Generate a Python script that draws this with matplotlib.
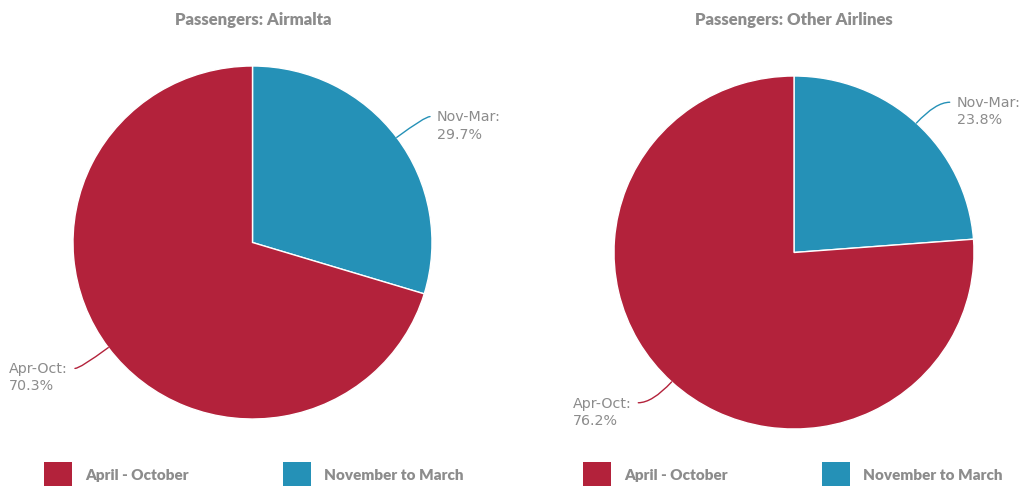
import numpy as np
import matplotlib
matplotlib.use("Agg")
import matplotlib.pyplot as plt
from matplotlib.patches import Rectangle

# data
titles = ["Passengers: Airmalta", "Passengers: Other Airlines"]
short_labels = ["Nov-Mar", "Apr-Oct"]
airmalta = [29.7, 70.3]
other = [23.8, 76.2]
legend_labels = ["April - October", "November to March"]

red = "#B3223B"
blue = "#2591B7"
grey = "#8c8c8c"
W, H = 1019, 486

fig = plt.figure(figsize=(W / 100, H / 100), dpi=100)
fig.patch.set_facecolor("white")


def px_axes(x0, x1, ytop, ybot):
    return fig.add_axes([x0 / W, (H - ybot) / H, (x1 - x0) / W, (ybot - ytop) / H])


def draw_pie(ax, values, title, title_x):
    wedges, _ = ax.pie(values, colors=[blue, red], startangle=90, counterclock=False,
                       wedgeprops=dict(edgecolor="white", linewidth=1))
    ax.set_xlim(-1, 1)
    ax.set_ylim(-1, 1)
    ax.set_aspect("auto")
    ax.axis("off")
    for w, name, v in zip(wedges, short_labels, values):
        mid = np.deg2rad((w.theta1 + w.theta2) / 2)
        x, y = np.cos(mid), np.sin(mid)
        sx = 1 if x >= 0 else -1
        sy = 1 if y >= 0 else -1
        dx, dy = 24 * sx, 15 * sy
        ax.annotate("", xy=(x, y), xytext=(dx, dy), textcoords="offset points",
                    arrowprops=dict(arrowstyle="-", color=w.get_facecolor(), lw=1,
                                    shrinkA=0, shrinkB=0,
                                    connectionstyle="angle3,angleA=0,angleB=%.1f" % np.rad2deg(mid)))
        ax.annotate("%s:\n%.1f%%" % (name, v), xy=(x, y),
                    xytext=(dx + 5 * sx, dy + 4.5), textcoords="offset points",
                    ha="left" if sx > 0 else "right", va="top", multialignment="left",
                    fontsize=10.3, color=grey, linespacing=1.3, annotation_clip=False)
    fig.text(title_x / W, 1 - 20 / H, title, ha="center", va="center",
             fontsize=12, fontweight="heavy", color=grey, family="Lato")


ax1 = px_axes(73, 432, 66, 419)
draw_pie(ax1, airmalta, titles[0], 253)
ax2 = px_axes(614, 974, 76, 429)
draw_pie(ax2, other, titles[1], 794)

# legends below each pie
for x_sq in [44, 583]:
    for i, (lab, col) in enumerate(zip(legend_labels, [red, blue])):
        xs = x_sq + i * 239
        fig.patches.append(Rectangle((xs / W, (H - 490) / H), 28 / W, 28 / H,
                                     transform=fig.transFigure, facecolor=col,
                                     edgecolor="none"))
        fig.text((xs + 41) / W, 1 - 475 / H, lab, ha="left", va="center",
                 fontsize=11, fontweight="heavy", color=grey, family="Lato")

fig.savefig("out.png", dpi=100)
